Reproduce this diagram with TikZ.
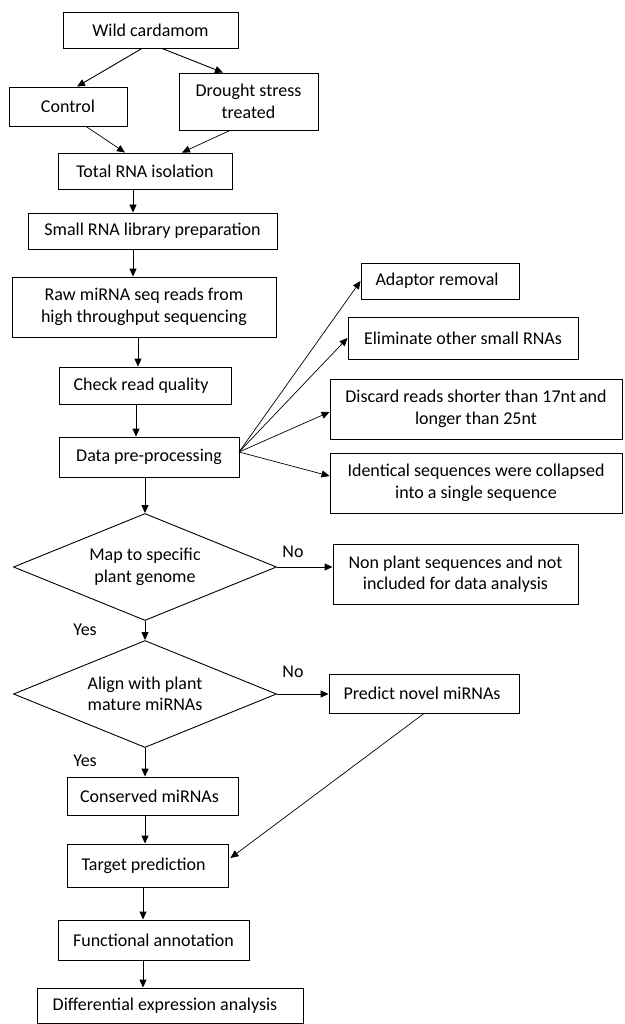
\documentclass[tikz,border=0pt]{standalone}
\usepackage{fontspec}
\setmainfont{Carlito}
\usetikzlibrary{shapes.geometric,arrows.meta,calc}
\begin{document}
\begin{tikzpicture}[x=1pt,y=-1pt,
  every node/.style={font=\fontsize{18}{21.5}\selectfont, text=black},
  box/.style={draw=black, line width=0.9pt, rectangle, inner sep=0pt, align=center},
  dia/.style={draw=black, line width=0.9pt, diamond, aspect=2.458, inner sep=0pt, align=center},
  lbl/.style={inner sep=0pt},
  arr/.style={line width=0.9pt, -{Triangle[length=8pt,width=7pt]}},
  tarr/.style={line width=0.7pt, -{Triangle[length=8pt,width=7pt]}}]
\useasboundingbox (0,0) rectangle (624,1024);
% boxes
\node[box, minimum width=175pt, minimum height=36pt] (wild) at (150.5,30) {Wild cardamom};
\node[box, minimum width=118pt, minimum height=39pt] (control) at (68,106.5) {Control};
\node[box, minimum width=139pt, minimum height=57pt] (drought) at (248.5,101.5) {Drought stress\\treated};
\node[box, minimum width=174pt, minimum height=36pt] (total) at (145,171) {Total RNA isolation};
\node[box, minimum width=249pt, minimum height=36pt] (small) at (152.5,231) {Small RNA library preparation};
\node[box, minimum width=264pt, minimum height=60pt] (raw) at (144,307) {Raw miRNA seq reads from\\high throughput sequencing};
\node[box, minimum width=172pt, minimum height=37pt] (check) at (145,385.5) {\hspace*{-8pt}Check read quality};
\node[box, minimum width=180pt, minimum height=40pt] (dp) at (149,457) {Data pre-processing};
\node[box, minimum width=158pt, minimum height=36pt] (adapt) at (440,281) {Adaptor removal\hspace*{6pt}};
\node[box, minimum width=230pt, minimum height=42pt] (elim) at (463,338) {Eliminate other small RNAs};
\node[box, minimum width=292pt, minimum height=60pt] (disc) at (476,409) {Discard reads shorter than 17nt\,and\\longer than 25nt};
\node[box, minimum width=292pt, minimum height=60pt] (ident) at (476,483) {Identical sequences were collapsed\\into a single sequence};
\node[dia, minimum width=263pt, minimum height=107pt] (d1) at (145,567) {Map to specific\\plant genome};
\node[box, minimum width=245pt, minimum height=60pt] (np) at (455.5,574) {Non plant sequences and not\\included for data analysis};
\node[dia, minimum width=263pt, minimum height=107pt] (d2) at (145,694) {Align with plant\\mature miRNAs};
\node[box, minimum width=190pt, minimum height=39pt] (pred) at (424,693.5) {Predict novel miRNAs\hspace*{4pt}};
\node[box, minimum width=171pt, minimum height=38pt] (cons) at (152.5,796) {Conserved miRNAs\hspace*{6pt}};
\node[box, minimum width=161pt, minimum height=43pt] (target) at (147.5,865.5) {Target prediction\hspace*{8pt}};
\node[box, minimum width=191pt, minimum height=40pt] (func) at (153.5,940) {Functional annotation};
\node[box, minimum width=266pt, minimum height=35pt] (diff) at (170,1005.5) {Differential expression analysis\hspace*{10pt}};
% labels
\node[lbl] (no1) at (293,552) {No};
\node[lbl] (no2) at (293,672) {No};
\node[lbl] (yes1) at (85,630) {Yes};
\node[lbl] (yes2) at (85,761) {Yes};
% column coordinates
\coordinate (c133) at (133,0);
\coordinate (c136) at (136,0);
\coordinate (c138) at (138,0);
\coordinate (c143) at (143,0);
\coordinate (c145) at (145,0);
\coordinate (fan) at (239,452);
% top connectors
\draw[arr] ($(wild.south)+(-8.5,0)$) -- ($(control.north)+(9,0)$);
\draw[arr] ($(wild.south)+(11.5,0)$) -- ($(drought.north)+(-25.5,0)$);
\draw[tarr] ($(control.south)+(18,0)$) -- ($(total.north)+(-20,0)$);
\draw[tarr] ($(drought.south)+(-18.5,0)$) -- ($(total.north)+(37,0)$);
% vertical chain
\draw[arr] (total.south -| c133) -- (small.north -| c133);
\draw[arr] (small.south -| c133) -- (raw.north -| c133);
\draw[arr] (raw.south -| c138) -- (check.north -| c138);
\draw[arr] (check.south -| c136) -- (dp.north -| c136);
\draw[arr] (dp.south -| c145) -- (d1.north);
\draw[arr] (d1.south) -- (d2.north);
\draw[arr] (d2.south) -- (cons.north -| c145);
\draw[arr] (cons.south -| c145) -- (target.north -| c145);
\draw[arr] (target.south -| c143) -- (func.north -| c143);
\draw[arr] (func.south -| c143) -- (diff.north -| c143);
% fan
\draw[tarr] (fan) -- (adapt.west);
\draw[tarr] (fan) -- (elim.west);
\draw[tarr] (fan) -- ($(disc.west)+(0,3)$);
\draw[tarr] (fan) -- ($(ident.west)+(0,-7)$);
% decisions
\draw[arr] (d1.east) -- (d1.east -| np.west);
\draw[arr] (d2.east) -- (d2.east -| pred.west);
\draw[tarr] (pred.south) -- ($(target.east)+(2,-7.5)$);
\end{tikzpicture}
\end{document}
